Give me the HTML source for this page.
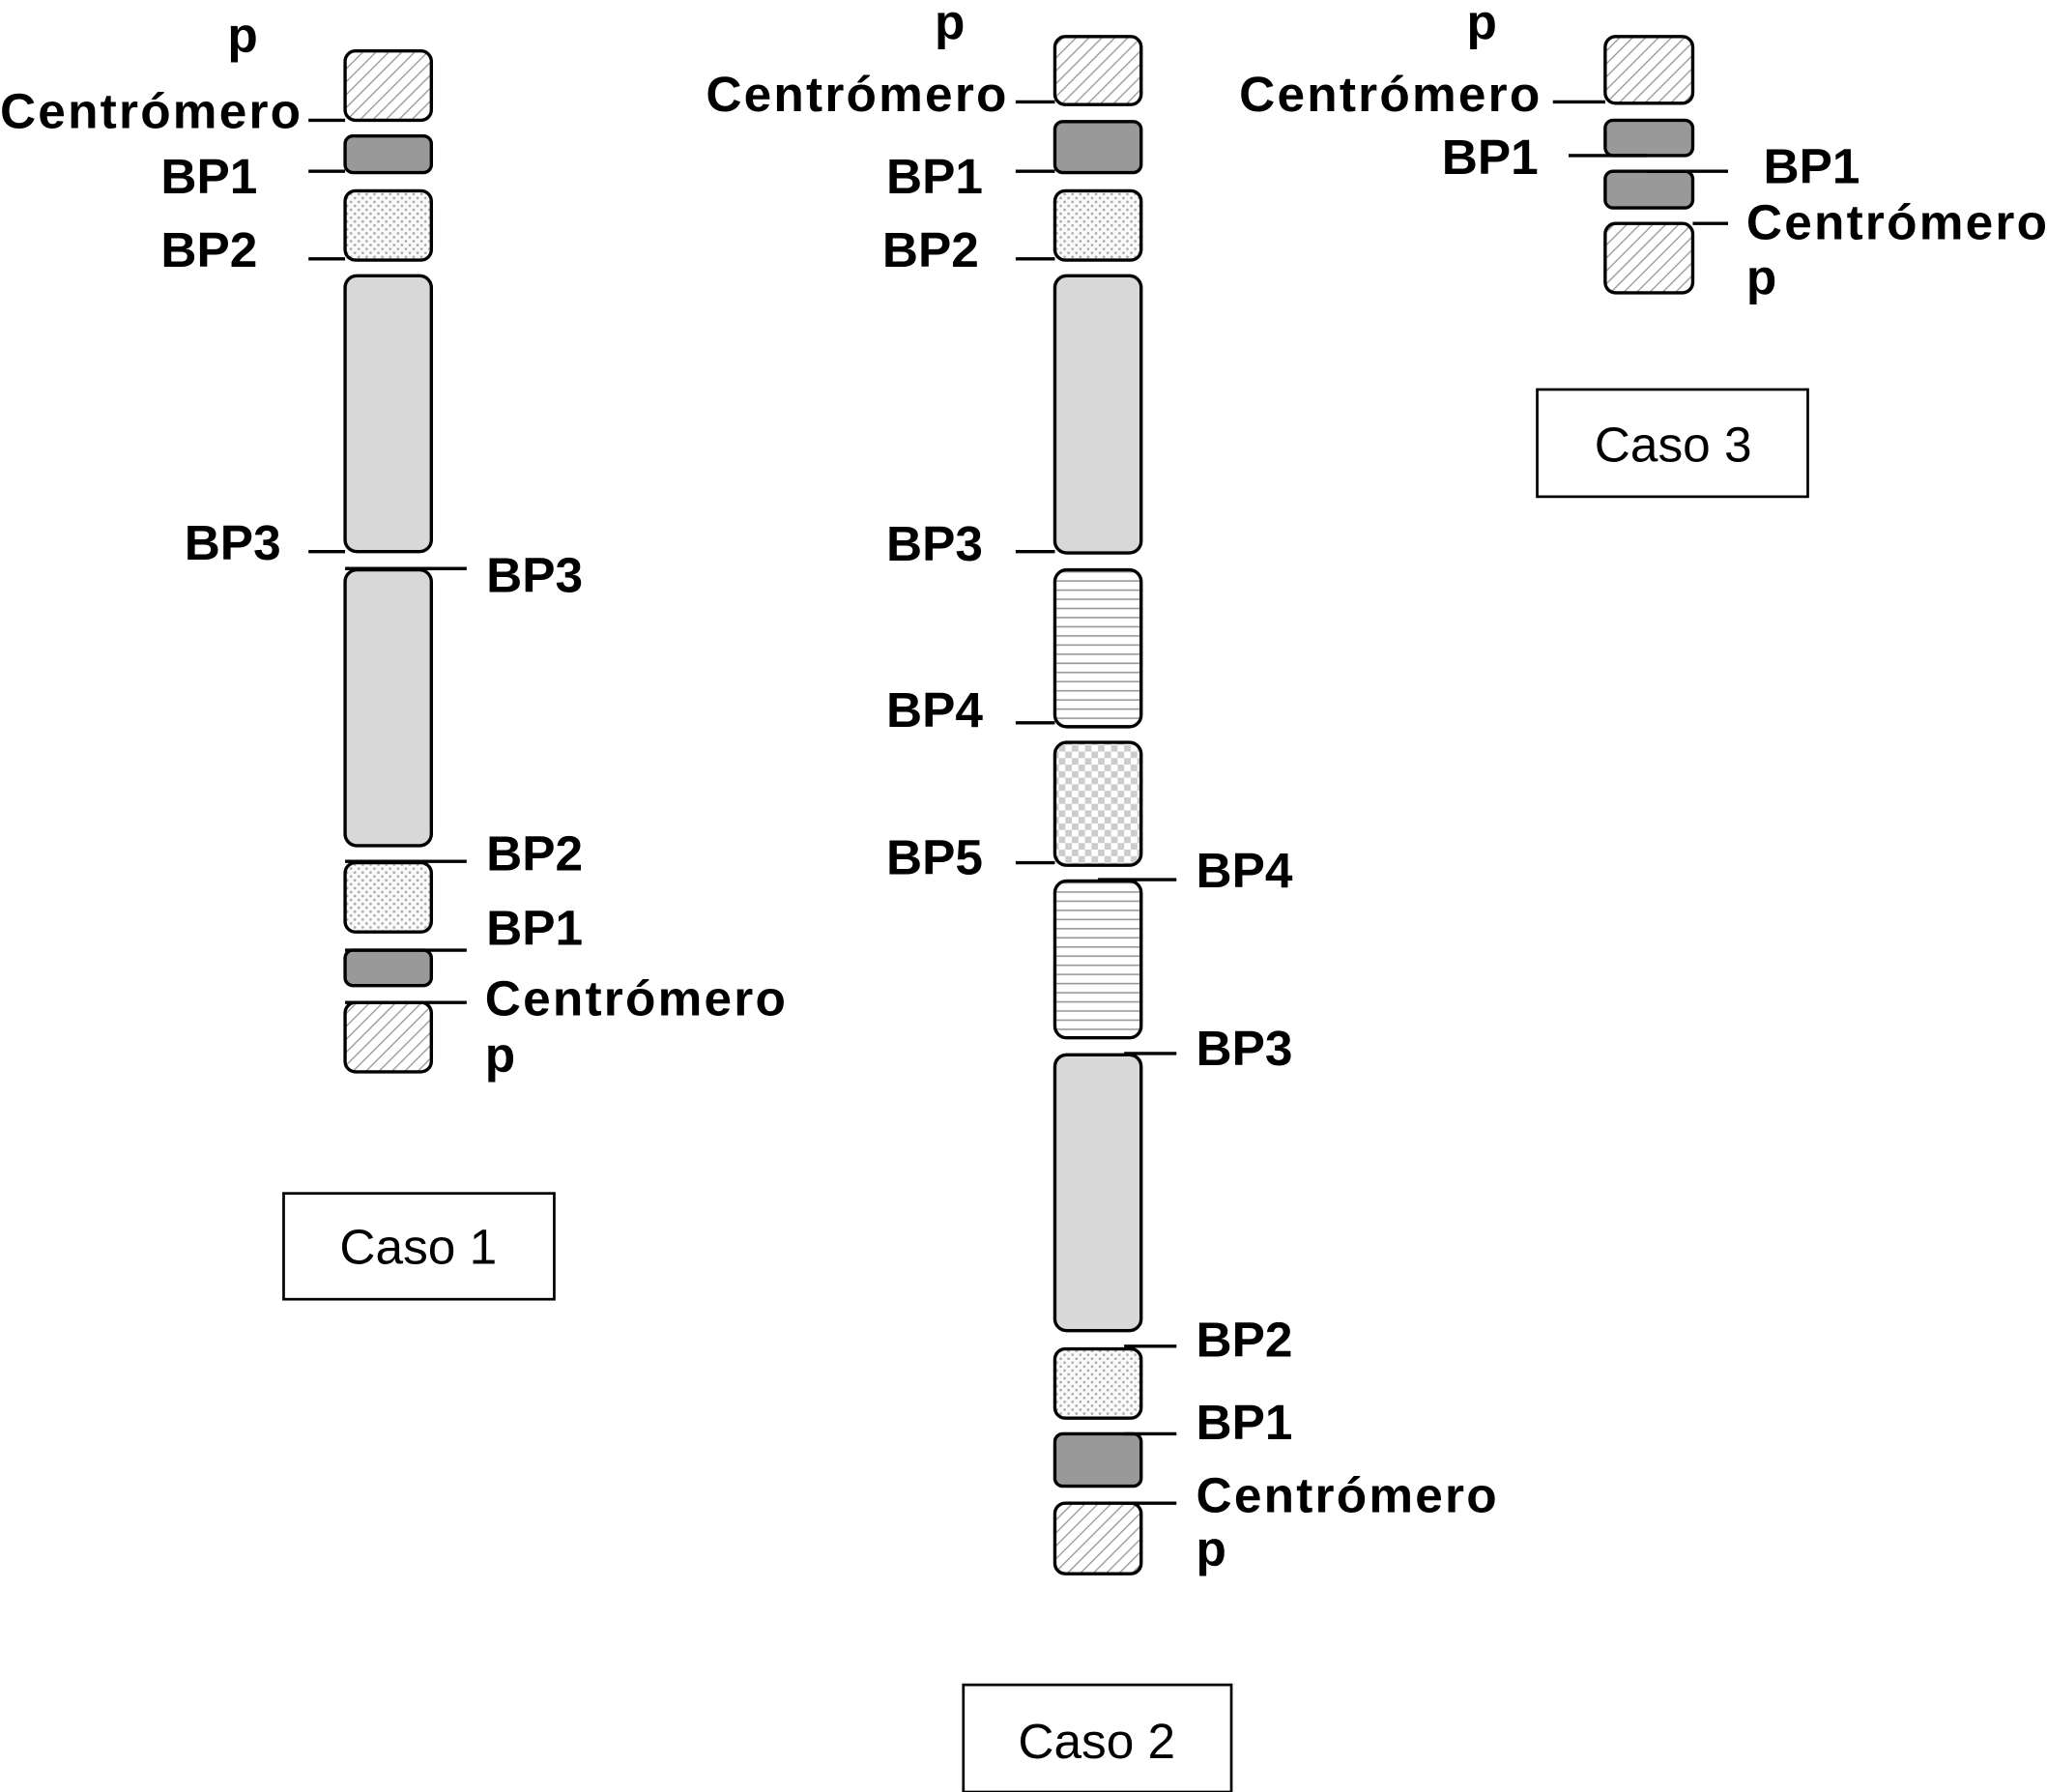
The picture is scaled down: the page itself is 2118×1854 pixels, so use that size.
<!DOCTYPE html>
<html><head><meta charset="utf-8"><style>
html,body{margin:0;padding:0;background:#fff;}
svg{display:block;}
text{font-family:"Liberation Sans",Arial,sans-serif;font-weight:bold;font-size:38px;fill:#000;}
.n{font-weight:normal;font-size:38px;}
</style></head><body>
<svg width="2118" height="1854" viewBox="0 0 1566 1371" preserveAspectRatio="none" xmlns="http://www.w3.org/2000/svg">
<defs>
<pattern id="hat" width="7" height="7" patternUnits="userSpaceOnUse" patternTransform="rotate(45)">
<rect width="7" height="7" fill="#fff"/><line x1="0" y1="0" x2="0" y2="7" stroke="#999" stroke-width="2"/></pattern>
<pattern id="dot" width="6" height="6" patternUnits="userSpaceOnUse">
<rect width="6" height="6" fill="#fafafa"/><circle cx="1.5" cy="1.5" r="1" fill="#aaa"/><circle cx="4.5" cy="4.5" r="1" fill="#aaa"/></pattern>
<pattern id="hor" width="6" height="7" patternUnits="userSpaceOnUse">
<rect width="6" height="7" fill="#fff"/><line x1="0" y1="3.5" x2="6" y2="3.5" stroke="#999" stroke-width="1.2"/></pattern>
<pattern id="chk" width="10" height="10" patternUnits="userSpaceOnUse">
<rect width="10" height="10" fill="#fff"/><rect width="5" height="5" fill="#ccc"/><rect x="5" y="5" width="5" height="5" fill="#ccc"/></pattern>
</defs>
<g stroke="#000" stroke-width="2.5">
<!-- Case 1 -->
<rect x="264" y="39" width="66" height="53" rx="8" fill="url(#hat)"/>
<rect x="264" y="104" width="66" height="28" rx="6" fill="#999"/>
<rect x="264" y="146" width="66" height="53" rx="8" fill="url(#dot)"/>
<rect x="264" y="211" width="66" height="211" rx="9" fill="#d8d8d8"/>
<rect x="264" y="436" width="66" height="211" rx="9" fill="#d8d8d8"/>
<rect x="264" y="660" width="66" height="53" rx="8" fill="url(#dot)"/>
<rect x="264" y="727" width="66" height="27" rx="6" fill="#999"/>
<rect x="264" y="767" width="66" height="53" rx="8" fill="url(#hat)"/>
<line x1="236" y1="92" x2="264" y2="92"/><line x1="236" y1="131" x2="264" y2="131"/>
<line x1="236" y1="198" x2="264" y2="198"/><line x1="236" y1="422" x2="264" y2="422"/>
<line x1="264" y1="435" x2="357" y2="435"/><line x1="264" y1="659" x2="357" y2="659"/>
<line x1="264" y1="727" x2="357" y2="727"/><line x1="264" y1="767" x2="357" y2="767"/>
<!-- Case 2 -->
<rect x="807" y="28" width="66" height="52" rx="8" fill="url(#hat)"/>
<rect x="807" y="93" width="66" height="39" rx="6" fill="#999"/>
<rect x="807" y="146" width="66" height="53" rx="8" fill="url(#dot)"/>
<rect x="807" y="211" width="66" height="212" rx="9" fill="#d8d8d8"/>
<rect x="807" y="436" width="66" height="120" rx="9" fill="url(#hor)"/>
<rect x="807" y="568" width="66" height="94" rx="9" fill="url(#chk)"/>
<rect x="807" y="674" width="66" height="120" rx="9" fill="url(#hor)"/>
<rect x="807" y="807" width="66" height="211" rx="9" fill="#d8d8d8"/>
<rect x="807" y="1032" width="66" height="53" rx="8" fill="url(#dot)"/>
<rect x="807" y="1097" width="66" height="40" rx="6" fill="#999"/>
<rect x="807" y="1150" width="66" height="54" rx="8" fill="url(#hat)"/>
<line x1="777" y1="78" x2="807" y2="78"/><line x1="777" y1="131" x2="807" y2="131"/>
<line x1="777" y1="198" x2="807" y2="198"/><line x1="777" y1="422" x2="807" y2="422"/>
<line x1="777" y1="553" x2="807" y2="553"/><line x1="777" y1="660" x2="807" y2="660"/>
<line x1="840" y1="673" x2="900" y2="673"/><line x1="860" y1="806" x2="900" y2="806"/>
<line x1="860" y1="1030" x2="900" y2="1030"/><line x1="860" y1="1097" x2="900" y2="1097"/>
<line x1="860" y1="1150" x2="900" y2="1150"/>
<!-- Case 3 -->
<rect x="1228" y="28" width="67" height="51" rx="8" fill="url(#hat)"/>
<rect x="1228" y="92" width="67" height="27" rx="6" fill="#999"/>
<rect x="1228" y="131" width="67" height="28" rx="6" fill="#999"/>
<rect x="1228" y="171" width="67" height="53" rx="8" fill="url(#hat)"/>
<line x1="1188" y1="78" x2="1228" y2="78"/>
<line x1="1200" y1="119" x2="1260" y2="119"/><line x1="1260" y1="131" x2="1322" y2="131"/>
<line x1="1295" y1="171" x2="1322" y2="171"/>
<!-- boxes -->
<rect x="217" y="913" width="207" height="81" fill="#fff" stroke-width="2"/>
<rect x="737" y="1289" width="205" height="82" fill="#fff" stroke-width="2"/>
<rect x="1176" y="298" width="207" height="82" fill="#fff" stroke-width="2"/>
</g>
<!-- Case 1 labels -->
<text x="174" y="40">p</text>
<text x="0" y="98" textLength="230">Centrómero</text>
<text x="123" y="148">BP1</text>
<text x="123" y="204">BP2</text>
<text x="141" y="428">BP3</text>
<text x="372" y="453">BP3</text>
<text x="372" y="666">BP2</text>
<text x="372" y="723">BP1</text>
<text x="371" y="777" textLength="230">Centrómero</text>
<text x="371" y="820">p</text>
<text class="n" x="320" y="967" text-anchor="middle">Caso 1</text>
<!-- Case 2 labels -->
<text x="715" y="30">p</text>
<text x="540" y="85" textLength="230">Centrómero</text>
<text x="678" y="148">BP1</text>
<text x="675" y="204">BP2</text>
<text x="678" y="429">BP3</text>
<text x="678" y="556">BP4</text>
<text x="678" y="669">BP5</text>
<text x="915" y="679">BP4</text>
<text x="915" y="815">BP3</text>
<text x="915" y="1038">BP2</text>
<text x="915" y="1101">BP1</text>
<text x="915" y="1157" textLength="230">Centrómero</text>
<text x="915" y="1198">p</text>
<text class="n" x="839" y="1345" text-anchor="middle">Caso 2</text>
<!-- Case 3 labels -->
<text x="1122" y="30">p</text>
<text x="948" y="85" textLength="230">Centrómero</text>
<text x="1103" y="133">BP1</text>
<text x="1349" y="140">BP1</text>
<text x="1336" y="183" textLength="230">Centrómero</text>
<text x="1336" y="225">p</text>
<text class="n" x="1280" y="353" text-anchor="middle">Caso 3</text>
</svg>
</body></html>
